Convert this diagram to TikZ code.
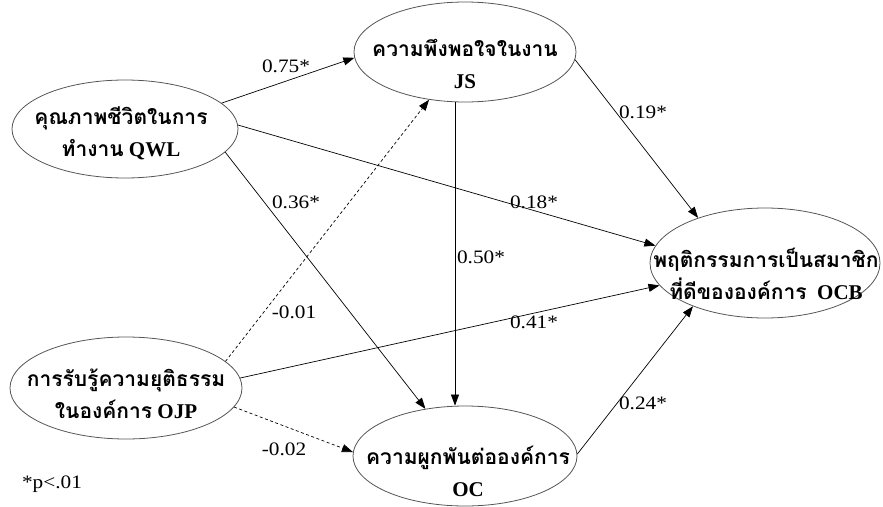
\documentclass[tikz,border=0pt]{standalone}
\usepackage{fontspec}
\setmainfont{Liberation Serif}
\newfontfamily\thaifont[Script=Thai]{Loma}
\newfontfamily\coeffont[FakeStretch=1.12]{Liberation Serif}
\usepackage{tikz}
\usetikzlibrary{arrows.meta,shapes.geometric}
\definecolor{rimgray}{HTML}{555555}

\begin{document}
\begin{tikzpicture}[x=1pt,y=-1pt,
  latent/.style={ellipse, draw=rimgray, line width=0.8pt, inner sep=0pt},
  vartext/.style={align=center, inner sep=0pt, font=\fontsize{21}{32}\selectfont\bfseries},
  arr/.style={-{Triangle[length=11pt,width=8pt]}, line width=0.7pt},
  dasharr/.style={arr, dash pattern=on 3pt off 2.5pt},
  coef/.style={font=\coeffont\fontsize{19}{22}\selectfont, inner sep=0pt}
]
\useasboundingbox (0,0) rectangle (883,506);
% constructs
\node[latent, minimum width=226pt, minimum height=98pt] (qwl) at (125,129) {};
\node[latent, minimum width=232pt, minimum height=102pt] (ojp) at (126,388) {};
\node[latent, minimum width=222pt, minimum height=100pt] (js) at (465,52) {};
\node[latent, minimum width=224pt, minimum height=100pt] (oc) at (465,456) {};
\node[latent, minimum width=230pt, minimum height=110pt] (ocb) at (765,263) {};
\node[vartext] (qwl-t) at (121,133) {{\thaifont คุณภาพชีวิตในการ}\\{\thaifont ทำงาน} QWL};
\node[vartext] (ojp-t) at (126,394) {{\thaifont การรับรู้ความยุติธรรม}\\{\thaifont ในองค์การ} OJP};
\node[vartext] (js-t) at (465,64) {{\thaifont ความพึงพอใจในงาน}\\JS};
\node[vartext] (oc-t) at (468,471) {{\thaifont ความผูกพันต่อองค์การ}\\OC};
\node[vartext] (ocb-t) at (766,274) {{\thaifont พฤติกรรมการเป็นสมาชิก}\\{\thaifont ที่ดีขององค์การ}\ \ OCB};
% paths
\draw[arr] (qwl.15) -- (js.183);
\draw[arr] (qwl.2) -- (ocb.171);
\draw[arr] (qwl.-13) -- (oc.130);
\draw[dasharr] (ojp.15) -- (js.233);
\draw[arr] (ojp.5) -- (ocb.192);
\draw[dasharr] (ojp.-10) -- (oc.178);
\draw[arr] ([xshift=-10pt]js.south) -- ([xshift=-10pt]oc.north);
\draw[arr] (js.-4) -- (ocb.146);
\draw[arr] (oc.1) -- (ocb.211);
% coefficients
\node[coef] (b1) at (286,66) {0.75*};
\node[coef] (b2) at (296,202) {0.36*};
\node[coef] (b3) at (534,202) {0.18*};
\node[coef] (b4) at (643,112) {0.19*};
\node[coef] (b5) at (481,257) {0.50*};
\node[coef] (b6) at (294,312) {-0.01};
\node[coef] (b7) at (534,322) {0.41*};
\node[coef] (b8) at (643,403) {0.24*};
\node[coef] (b9) at (284,449) {-0.02};
\node[coef] (note) at (52,484) {*p<.01};
\end{tikzpicture}
\end{document}
